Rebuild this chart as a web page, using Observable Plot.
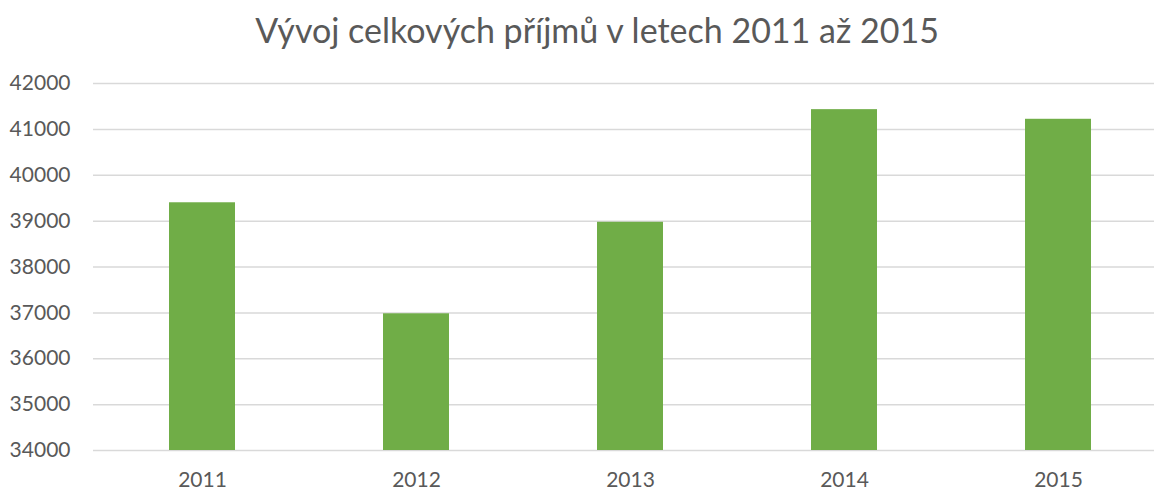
<!DOCTYPE html>
<html>
<head>
<meta charset="utf-8">
<script src="https://cdn.jsdelivr.net/npm/d3@7"></script>
<script src="https://cdn.jsdelivr.net/npm/@observablehq/plot@0.6"></script>
<style>
  html, body { margin: 0; padding: 0; background: white; width: 1154px; overflow: hidden; }
  #title { height: 60px; line-height: 60px; text-align: center; font-family: Lato, sans-serif; font-size: 34px; color: #595959; padding-left: 40px; box-sizing: border-box; }
</style>
</head>
<body>
<div id="title">Vývoj celkových příjmů v letech 2011 až 2015</div>
<div id="chart"></div>
<script>
const years = ["2011", "2012", "2013", "2014", "2015"];
const income = [39400, 36980, 38975, 41430, 41220];
const yTicks = [34000, 35000, 36000, 37000, 38000, 39000, 40000, 41000, 42000];

const data = years.map((y, i) => ({year: y, value: income[i]}));

const chart = Plot.plot({
  width: 1154,
  height: 431,
  marginLeft: 93,
  marginRight: -13,
  marginTop: 23,
  marginBottom: 41,
  style: {fontFamily: "Lato, sans-serif", fontSize: "21px", color: "#595959", background: "white", overflow: "hidden"},
  x: {domain: years, padding: 0, label: null, tickSize: 0, tickPadding: 22},
  y: {domain: [34000, 42000], ticks: yTicks, label: null, tickSize: 0, tickPadding: 23, tickFormat: "d"},
  marks: [
    Plot.ruleY(yTicks, {stroke: "#d9d9d9", strokeWidth: 1.5}),
    Plot.barY(data, {x: "year", y: "value", fill: "#70AD47", insetLeft: 74, insetRight: 74, clip: "frame"})
  ]
});
document.getElementById("chart").appendChild(chart);
</script>
</body>
</html>
